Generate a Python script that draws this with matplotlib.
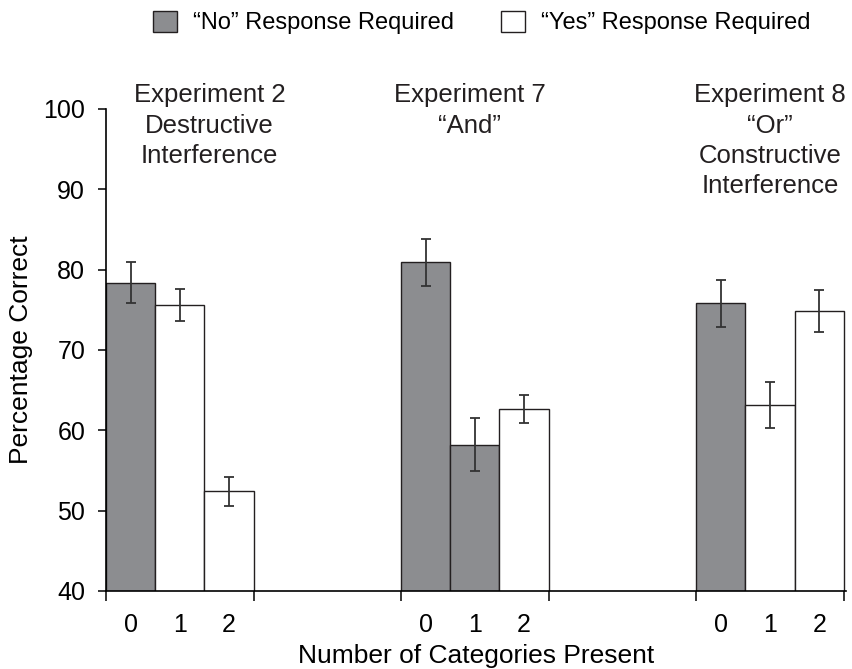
import numpy as np
import matplotlib
matplotlib.use('Agg')
import matplotlib.pyplot as plt
from matplotlib.patches import Patch

plt.rcParams['font.family'] = ['Liberation Sans', 'DejaVu Sans']

# data
titles = ['Experiment 2\nDestructive\nInterference',
          'Experiment 7\n\u201cAnd\u201d',
          'Experiment 8\n\u201cOr\u201d\nConstructive\nInterference']
title_x = [2.1, 7.4, 13.5]
counts = ['0', '1', '2']
pct = [[78.4, 75.6, 52.4],
       [80.9, 58.2, 62.6],
       [75.8, 63.2, 74.9]]
err = [[2.6, 1.95, 1.85],
       [2.9, 3.3, 1.75],
       [2.95, 2.85, 2.6]]
# 'No' = gray bar, 'Yes' = white bar
resp = [['No', 'Yes', 'Yes'],
        ['No', 'No', 'Yes'],
        ['No', 'Yes', 'Yes']]

gray = '#8c8d90'
edge = '#231f20'
col = {'No': gray, 'Yes': 'white'}

fig = plt.figure(figsize=(8.53, 6.69), dpi=100)
ax = fig.add_axes([0.1243, 0.1166, 0.8672, 0.7205])

gap = 6
xs = []
for g in range(3):
    x = g*gap + np.arange(3) + 0.5
    xs += list(x)
    ax.bar(x, pct[g], width=1.0, bottom=0, color=[col[r] for r in resp[g]],
           edgecolor=edge, linewidth=1.0, zorder=2)
    ax.errorbar(x, pct[g], yerr=err[g], fmt='none', ecolor='#333333',
                elinewidth=1.3, capsize=3.5, capthick=1.3, zorder=3)
    ax.text(title_x[g], 103.2, titles[g], ha='center', va='top',
            fontsize=18.5, linespacing=1.33, color='#231f20', clip_on=False)

ax.set_xlim(0, 3*gap - 3 + 0.04)
ax.set_ylim(40, 100)
ax.set_yticks(np.arange(40, 101, 10))
ax.set_xticks([0, 3, 6, 9, 12, 15])
ax.set_xticklabels([])
ax.set_xticks(xs, minor=True)
ax.set_xticklabels(counts*3, minor=True)
ax.tick_params(axis='x', which='major', length=7, width=1.1, direction='out')
ax.tick_params(axis='x', which='minor', length=0, pad=16, labelsize=18)
ax.tick_params(axis='y', length=6, width=1.1, pad=9, labelsize=18)

for s in ['top', 'right']:
    ax.spines[s].set_visible(False)
ax.spines['left'].set_linewidth(1.2)
ax.spines['bottom'].set_linewidth(1.2)

ax.set_ylabel('Percentage Correct', fontsize=19)
ax.yaxis.set_label_coords(-0.099, 0.5)
ax.set_xlabel('Number of Categories Present', fontsize=19)
ax.xaxis.set_label_coords(0.5, -0.11)

handles = [Patch(facecolor=gray, edgecolor=edge, label='\u201cNo\u201d Response Required'),
           Patch(facecolor='white', edgecolor=edge, label='\u201cYes\u201d Response Required')]
fig.legend(handles=handles, loc='upper center', bbox_to_anchor=(0.565, 1.005), ncol=2,
           frameon=False, fontsize=17, handlelength=1.0, handleheight=1.0,
           handletextpad=0.7, columnspacing=2.0, borderaxespad=0.2)

fig.savefig('out.png', dpi=100)
